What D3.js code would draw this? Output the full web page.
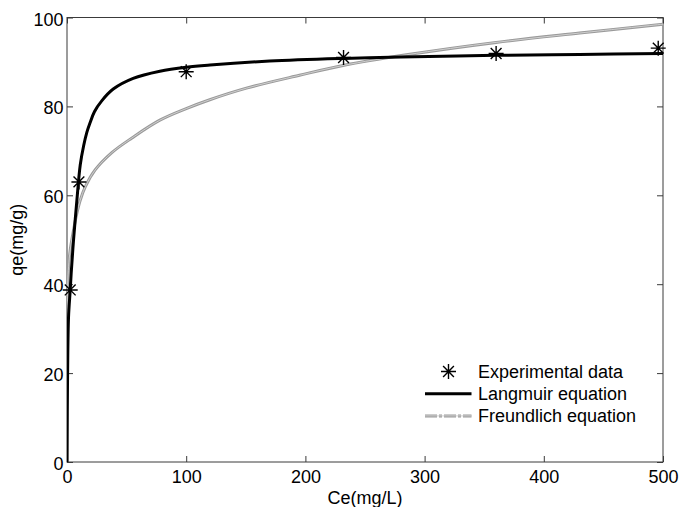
<!DOCTYPE html>
<html>
<head>
<meta charset="utf-8">
<script src="https://cdn.jsdelivr.net/npm/d3@7"></script>
<style>
	body { margin: 0; background: #fff; }
	text { font-family: "Liberation Sans", Arial, sans-serif; }
</style>
</head>
<body>
<div id="canvas"></div>
<script>
// Data
const expCe = [2.7, 10, 100, 232, 360, 496]
const expQe = [38.7, 63, 87.8, 91, 91.9, 93.1]

const langCe = [0, 0.5, 1.3, 2.7, 3.5, 5.5, 8.3, 11.1, 14, 16.7, 19.2, 23, 29.3, 38.8, 55.5, 77.9, 100, 120, 170, 232, 280, 360, 430, 500]
const langQe = [0, 20, 32.7, 38.7, 42.4, 50, 58.9, 66.8, 71.2, 74.2, 76.2, 78.8, 81.3, 83.9, 86.3, 87.9, 88.8, 89.3, 90.2, 90.8, 91.1, 91.5, 91.7, 91.9]

const freuCe = [0, 0.2, 1.3, 2.7, 5.5, 8.3, 11.1, 15.3, 23.6, 37.6, 54.5, 77.9, 100, 119.8, 150.5, 195, 231.5, 284.6, 360, 430, 500]
const freuQe = [0, 36, 43.9, 47.7, 52.2, 56, 58.9, 61.9, 65.7, 69.6, 72.9, 76.9, 79.5, 81.5, 84.1, 87, 89.2, 91.6, 94.4, 96.5, 98.5]

const xTicks = [0, 100, 200, 300, 400, 500]
const yTicks = [0, 20, 40, 60, 80, 100]
const legendLabels = ['Experimental data', 'Langmuir equation', 'Freundlich equation']

// Layout
const W = 679, H = 507
const plot = {left: 67, right: 663, top: 17.5, bottom: 462}
const colors = {axis: '#3a3a3a', lang: '#000', freu: '#9a9a9a', freuMid: '#cfcfcf'}

const svg = d3.select('#canvas').append('svg').attr('width', W).attr('height', H)

const x = d3.scaleLinear().domain([0, 500]).range([plot.left, plot.right])
const y = d3.scaleLinear().domain([0, 100]).range([plot.bottom, plot.top])

const zip = (a, b) => a.map((v, i) => ({ce: v, qe: b[i]}))
const expData = zip(expCe, expQe)
const langData = zip(langCe, langQe)
const freuData = zip(freuCe, freuQe)

const line = d3.line().curve(d3.curveCatmullRom.alpha(0.5)).x(d => x(d.ce)).y(d => y(d.qe))

// Axes (ticks point inward, MATLAB style)
function styleAxis(g) {
	g.select('.domain').remove()
	g.selectAll('line').attr('stroke', colors.axis)
	g.selectAll('text').attr('font-size', 18).attr('fill', '#000').attr('font-family', '"Liberation Sans", Arial, sans-serif')
}
svg.append('g').attr('transform', `translate(0,${plot.bottom})`)
	.call(d3.axisBottom(x).tickValues(xTicks).tickSize(-6).tickPadding(8.5))
	.call(styleAxis)
svg.append('g').attr('transform', `translate(0,${plot.top})`)
	.call(d3.axisTop(x).tickValues(xTicks).tickSize(-6).tickFormat(''))
	.call(styleAxis)
svg.append('g').attr('transform', `translate(${plot.left},0)`)
	.call(d3.axisLeft(y).tickValues(yTicks).tickSize(-6).tickPadding(3.5))
	.call(styleAxis)
	.call(g => g.selectAll('text').attr('dy', '0.42em'))
svg.append('g').attr('transform', `translate(${plot.right},0)`)
	.call(d3.axisRight(y).tickValues(yTicks).tickSize(-6).tickFormat(''))
	.call(styleAxis)

svg.append('rect')
	.attr('x', plot.left).attr('y', plot.top)
	.attr('width', plot.right - plot.left).attr('height', plot.bottom - plot.top)
	.attr('fill', 'none').attr('stroke', colors.axis).attr('stroke-width', 1)

// Axis titles
svg.append('text')
	.attr('x', (plot.left + plot.right) / 2).attr('y', 503.5)
	.attr('text-anchor', 'middle').attr('font-size', 18)
	.text('Ce(mg/L)')
svg.append('text')
	.attr('transform', `translate(23,${(plot.top + plot.bottom) / 2}) rotate(-90)`)
	.attr('text-anchor', 'middle').attr('font-size', 18)
	.text('qe(mg/g)')

// Curves
svg.append('clipPath').attr('id', 'clip')
	.append('rect').attr('x', plot.left).attr('y', plot.top - 2)
	.attr('width', plot.right - plot.left + 1).attr('height', plot.bottom - plot.top + 2)

const curves = svg.append('g').attr('clip-path', 'url(#clip)')
curves.append('path').attr('d', line(freuData))
	.attr('fill', 'none').attr('stroke', colors.freu).attr('stroke-width', 3)
curves.append('path').attr('d', line(freuData))
	.attr('fill', 'none').attr('stroke', colors.freuMid).attr('stroke-width', 1)
curves.append('path').attr('d', line(langData))
	.attr('fill', 'none').attr('stroke', colors.lang).attr('stroke-width', 3)

// Asterisk marker
const r = 7.5, rd = r * 0.72
const asterisk = `M${-r},0L${r},0M0,${-r}L0,${r}M${-rd},${-rd}L${rd},${rd}M${-rd},${rd}L${rd},${-rd}`

svg.selectAll('.exp').data(expData).enter()
	.append('path').classed('exp', true)
	.attr('transform', d => `translate(${x(d.ce)},${y(d.qe)})`)
	.attr('d', asterisk)
	.attr('fill', 'none').attr('stroke', '#000').attr('stroke-width', 1.4)

// Legend (no box)
const legend = svg.append('g').attr('transform', 'translate(425,371.5)')
const rowGap = 22.2
const items = legend.selectAll('.item').data(legendLabels).enter()
	.append('g').classed('item', true)
	.attr('transform', (d, i) => `translate(0,${i * rowGap})`)
items.append('text')
	.attr('x', 53).attr('dy', '0.36em').attr('font-size', 18)
	.text(d => d)

legend.append('path').attr('transform', 'translate(23.5,0)').attr('d', asterisk)
	.attr('fill', 'none').attr('stroke', '#000').attr('stroke-width', 1.4)
legend.append('line').attr('x1', 0).attr('x2', 46.5).attr('y1', rowGap).attr('y2', rowGap)
	.attr('stroke', colors.lang).attr('stroke-width', 3)
legend.append('line').attr('x1', 0).attr('x2', 46.5).attr('y1', 2 * rowGap).attr('y2', 2 * rowGap)
	.attr('stroke', colors.freu).attr('stroke-width', 3).attr('stroke-dasharray', '12 2 3 2')
legend.append('line').attr('x1', 0).attr('x2', 46.5).attr('y1', 2 * rowGap).attr('y2', 2 * rowGap)
	.attr('stroke', colors.freuMid).attr('stroke-width', 1)
</script>
</body>
</html>
